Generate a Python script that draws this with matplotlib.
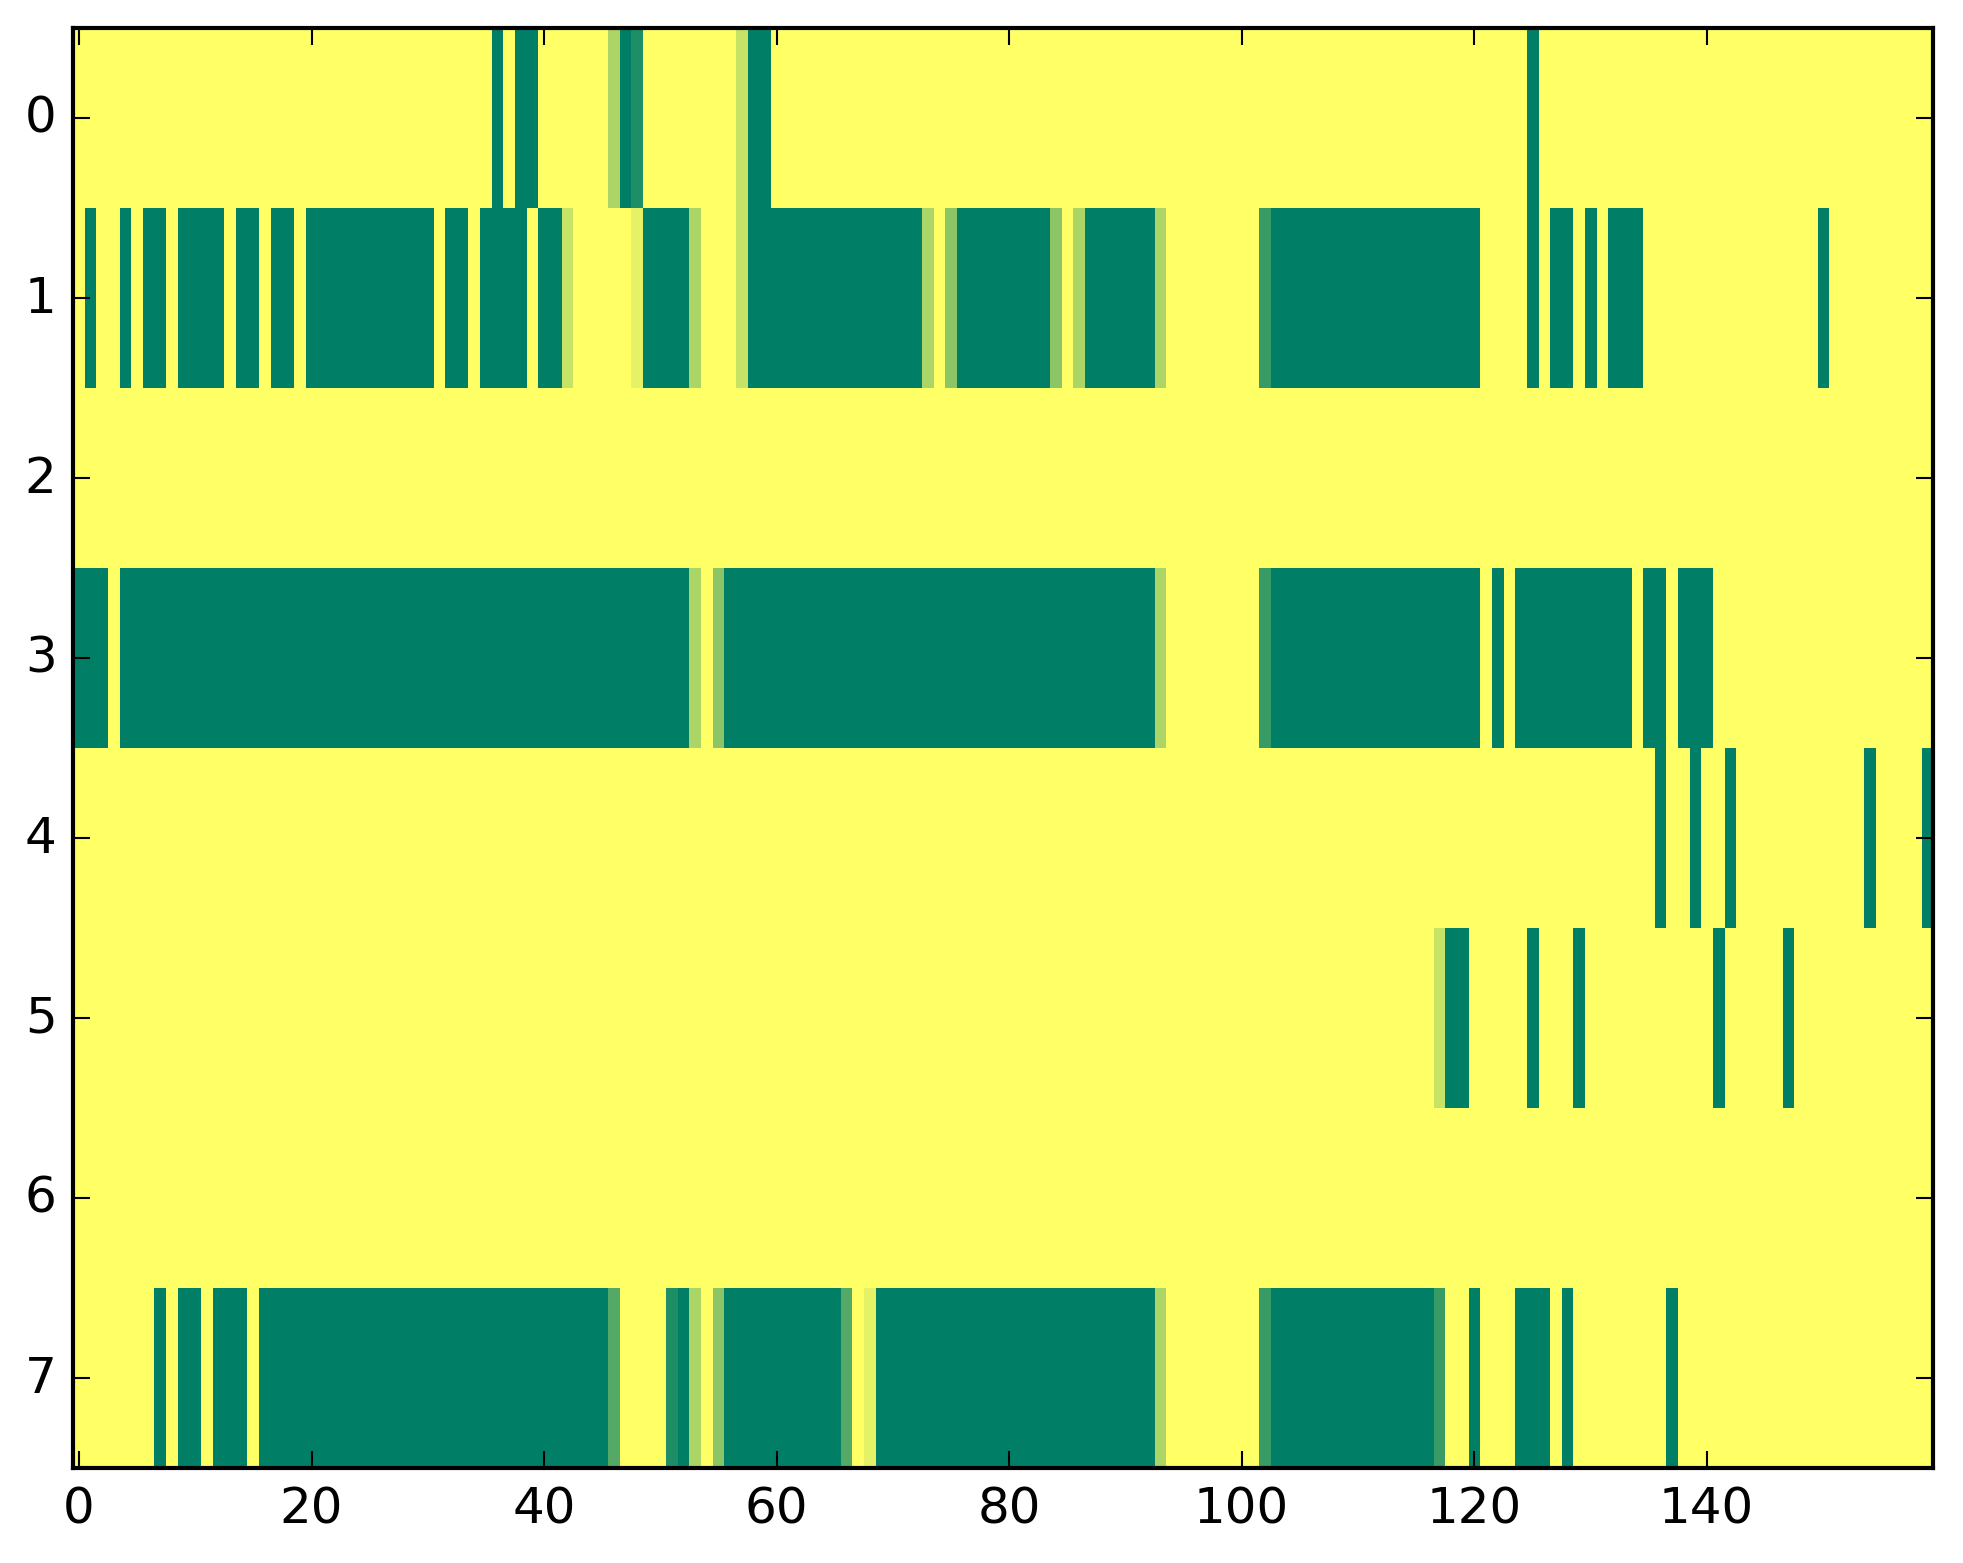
import numpy as np
import matplotlib
matplotlib.use('Agg')
import matplotlib.pyplot as plt

n_rows = 8
n_cols = 160

# columns with a full value (1.0), written as (first, last) runs per row
full_runs = {
    0: [(36, 36), (38, 39), (47, 47), (58, 59), (125, 125)],
    1: [(1, 1), (4, 4), (6, 7), (9, 12), (14, 15), (17, 18), (20, 30),
        (32, 33), (35, 38), (40, 41), (49, 52), (58, 72), (76, 83),
        (87, 92), (103, 120), (125, 125), (127, 128), (130, 130),
        (132, 134), (150, 150)],
    2: [],
    3: [(0, 2), (4, 52), (56, 92), (103, 120), (122, 122), (124, 133),
        (135, 136), (138, 140)],
    4: [(136, 136), (139, 139), (142, 142), (154, 154), (159, 159)],
    5: [(118, 119), (125, 125), (129, 129), (141, 141), (147, 147)],
    6: [],
    7: [(7, 7), (9, 10), (12, 14), (16, 45), (52, 52), (56, 65),
        (69, 92), (103, 116), (120, 120), (124, 126), (128, 128),
        (137, 137)],
}

# cells with an in-between value
partial_cells = {
    0: {46: 0.33, 48: 0.88, 57: 0.22},
    1: {42: 0.22, 48: 0.10, 53: 0.33, 57: 0.22, 73: 0.33, 75: 0.45,
        84: 0.45, 86: 0.33, 93: 0.33, 102: 0.78},
    3: {53: 0.33, 55: 0.45, 93: 0.33, 102: 0.78},
    5: {117: 0.22},
    7: {46: 0.67, 51: 0.88, 53: 0.33, 55: 0.45, 66: 0.67, 68: 0.10,
        93: 0.33, 102: 0.78, 117: 0.78},
}

x_ticks = [0, 20, 40, 60, 80, 100, 120, 140]
y_ticks = list(range(n_rows))


def build_grid():
    grid = np.zeros((n_rows, n_cols))
    for r, runs in full_runs.items():
        for a, b in runs:
            grid[r, a:b + 1] = 1.0
    for r, cells in partial_cells.items():
        for c, v in cells.items():
            grid[r, c] = v
    return grid


def main():
    plt.style.use('classic')
    plt.rcParams['font.family'] = ['DejaVu Sans']

    grid = build_grid()

    fig = plt.figure(figsize=(1963 / 300, 1564 / 300), dpi=300, facecolor='white')
    ax = fig.add_axes([0.03729, 0.06093, 0.94763, 0.92053])
    ax.imshow(grid, cmap='summer_r', vmin=0, vmax=1, aspect='auto',
              interpolation='nearest')
    ax.set_xticks(x_ticks)
    ax.set_yticks(y_ticks)
    ax.set_xlim(-0.5, n_cols - 0.5)
    ax.set_ylim(n_rows - 0.5, -0.5)

    fig.savefig('out.png', dpi=300, facecolor='white')


if __name__ == '__main__':
    main()
